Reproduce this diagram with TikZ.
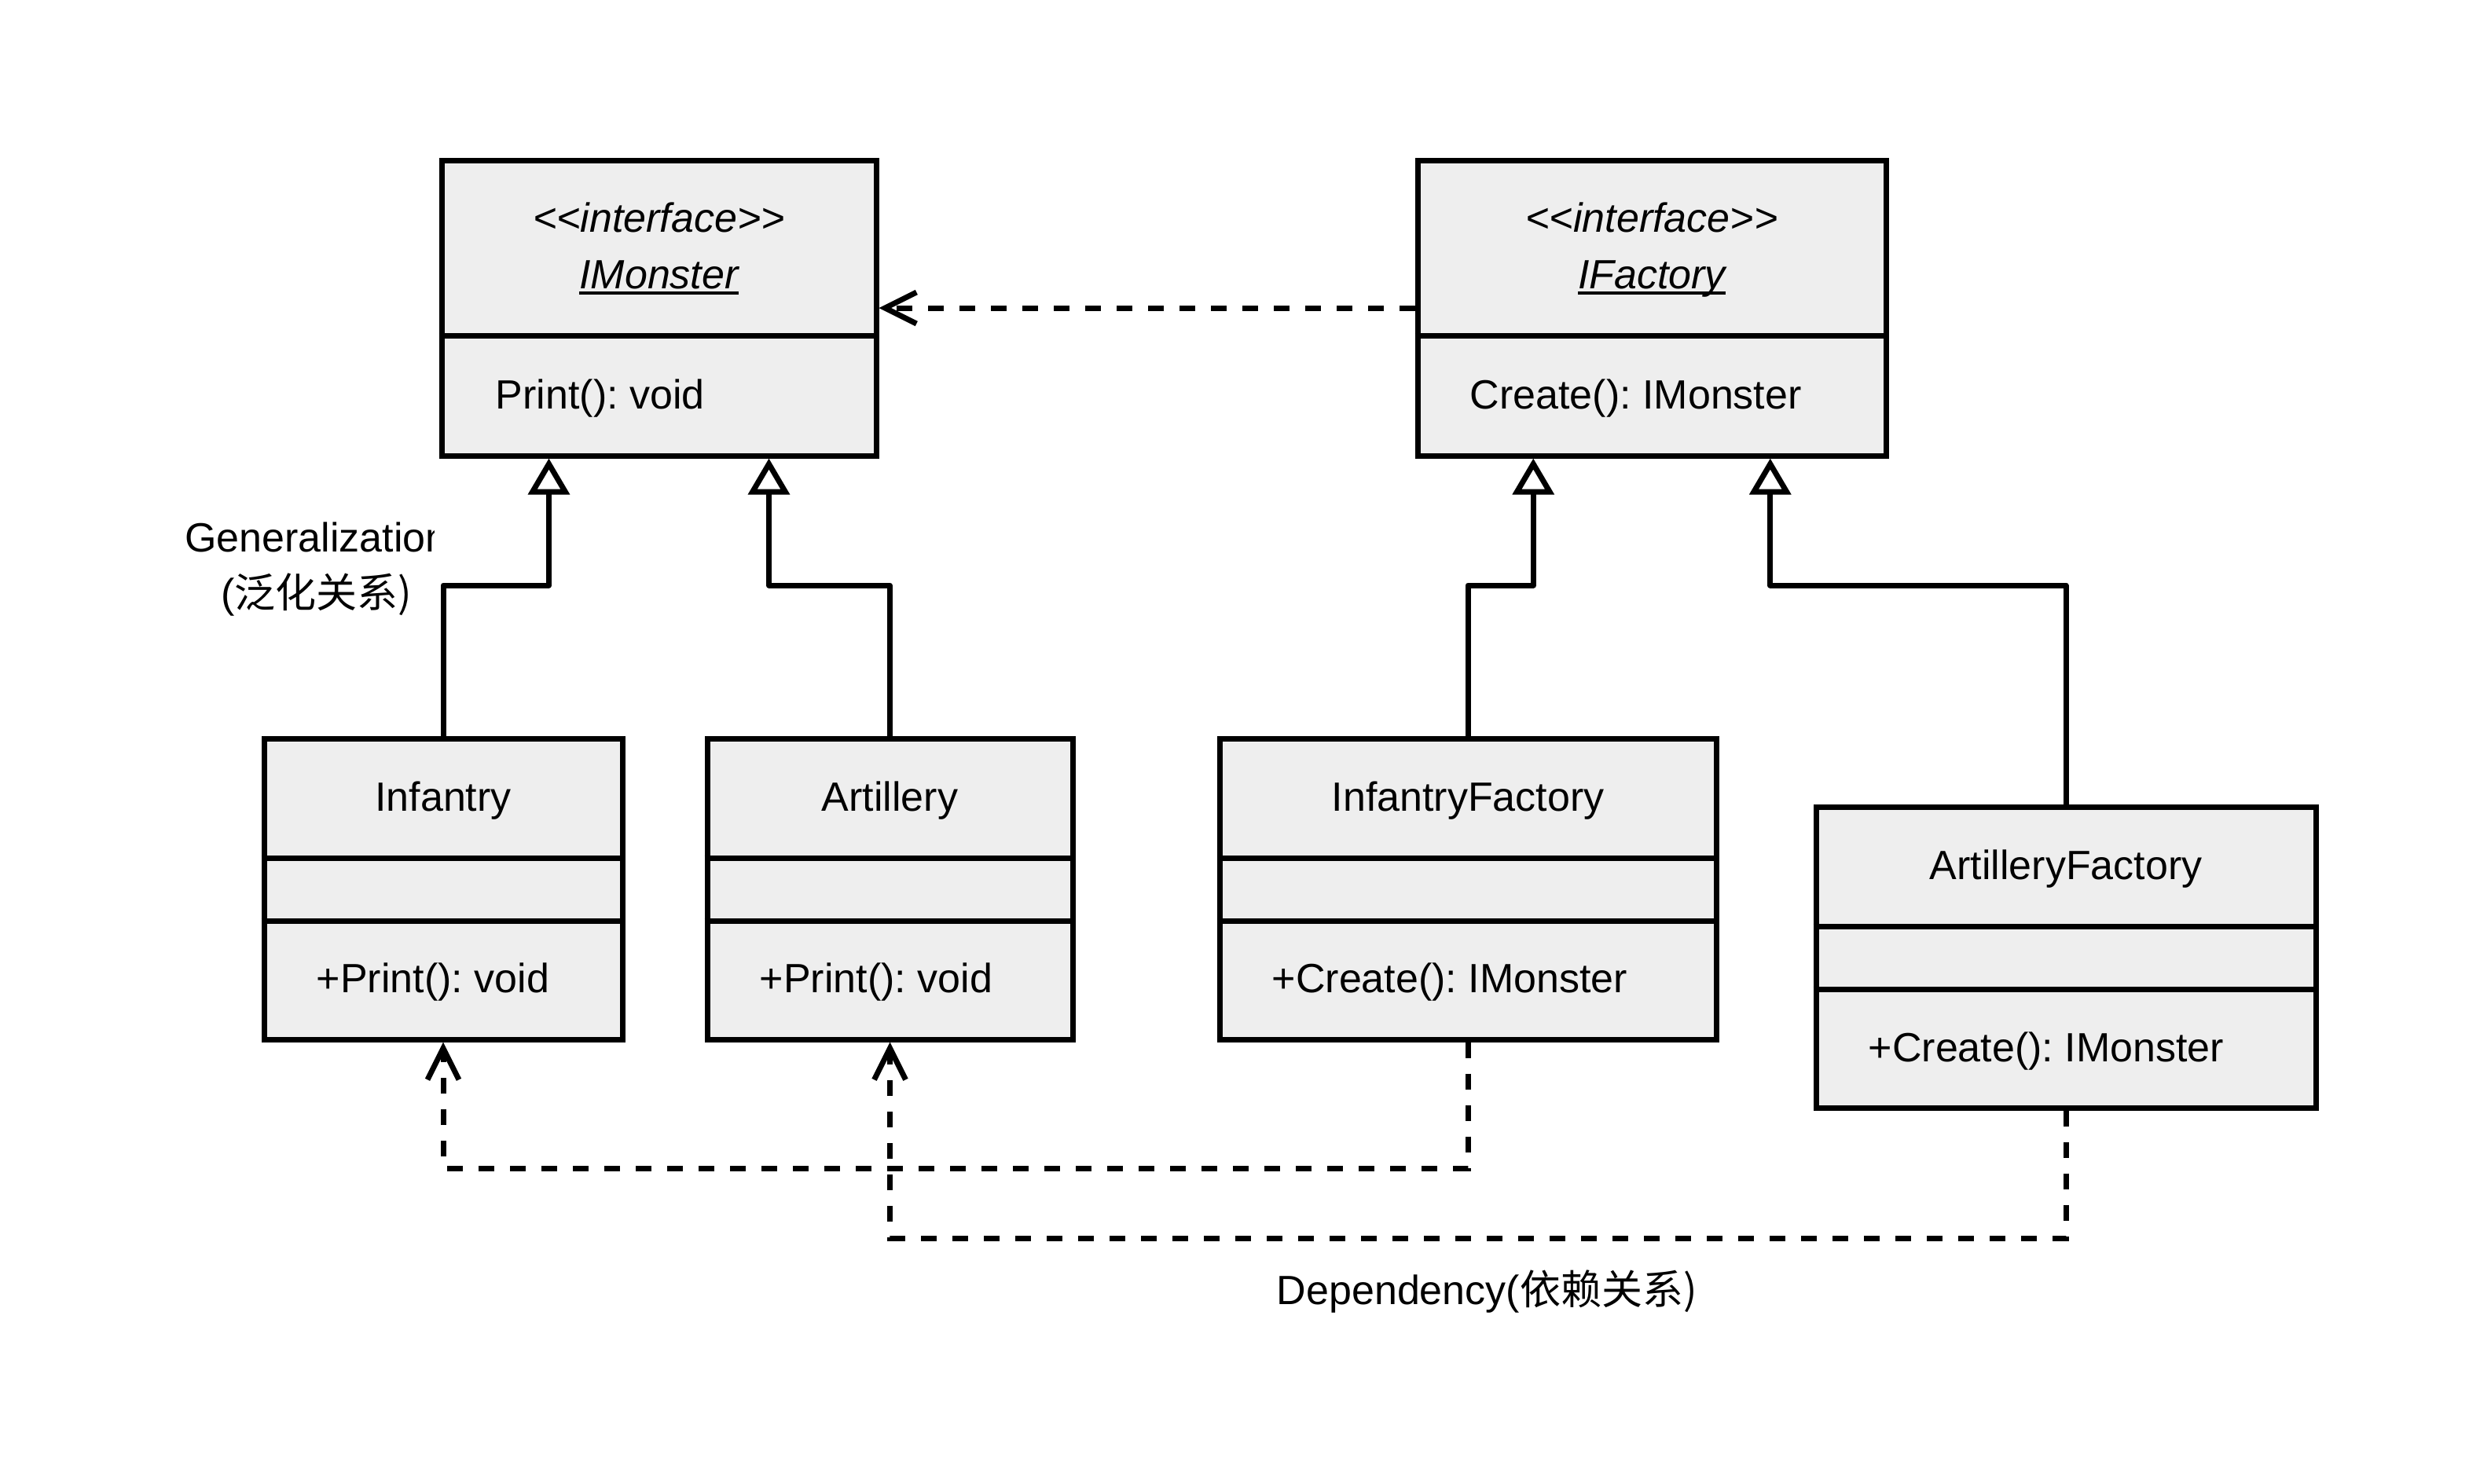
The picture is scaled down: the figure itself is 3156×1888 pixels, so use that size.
\documentclass[tikz,border=0pt]{standalone}
\usepackage{fontspec}
\setmainfont{Liberation Sans}
\newfontfamily\cjk{Noto Sans CJK SC}
\usetikzlibrary{arrows.meta,calc}
\definecolor{boxfill}{HTML}{EEEEEE}
\newcommand\myLt{\mbox{<}}
\newcommand\myGt{\mbox{>}}
\newcommand\myul[1]{\setbox0\hbox{#1}\rlap{\rule[-2pt]{\wd0}{0.9pt}}\box0}
\frenchspacing
\tikzset{
  umlbox/.style={draw, fill=boxfill, line width=1.75pt, rectangle, inner sep=0pt},
  txt/.style={inner sep=0pt, font=\fontsize{13pt}{17.75pt}\selectfont},
  gen/.style={line width=1.75pt, line join=round, -{Triangle[length=11.5pt,width=13pt,fill=white]}},
  dep/.style={line width=1.75pt, dash pattern=on 5pt off 5pt, -{Straight Barb[length=10pt,width=10pt]}},
  divider/.style={line width=1.75pt}
}
\begin{document}
\begin{tikzpicture}[x=0.25pt,y=-0.25pt]
\useasboundingbox (0,0) rectangle (3156,1888);
\fill[white] (0,0) rectangle (3156,1888);

% boxes
\node[umlbox, minimum width=138.25pt, minimum height=94pt] (imon) at (838.5,392) {};
\node[umlbox, minimum width=149pt, minimum height=94pt] (ifac) at (2102,392) {};
\node[umlbox, minimum width=114pt, minimum height=95.75pt] (inf) at (564,1131.5) {};
\node[umlbox, minimum width=116.25pt, minimum height=95.75pt] (art) at (1132.5,1131.5) {};
\node[umlbox, minimum width=158pt, minimum height=95.75pt] (inff) at (1868,1131.5) {};
\node[umlbox, minimum width=159pt, minimum height=95.75pt] (artf) at (2629,1218.5) {};

% dividers
\draw[divider] (imon.west |- 0,427) -- (imon.east |- 0,427);
\draw[divider] (ifac.west |- 0,427) -- (ifac.east |- 0,427);
\foreach \b in {inf,art,inff}{
  \draw[divider] (\b.west |- 0,1092) -- (\b.east |- 0,1092);
  \draw[divider] (\b.west |- 0,1172) -- (\b.east |- 0,1172);
}
\draw[divider] (artf.west |- 0,1179) -- (artf.east |- 0,1179);
\draw[divider] (artf.west |- 0,1259) -- (artf.east |- 0,1259);

% texts
\node[txt, anchor=base] (imonst) at (838.5,295) {\itshape\myLt\myLt interface\myGt\myGt};
\node[txt, anchor=base] (imonnm) at (838.5,367) {\itshape\myul{IMonster}};
\node[txt, anchor=base west] (imonm) at (630,520) {Print(): void};
\node[txt, anchor=base] (ifacst) at (2102,295) {\itshape\myLt\myLt interface\myGt\myGt};
\node[txt, anchor=base] (ifacnm) at (2102,367) {\itshape\myul{IFactory}};
\node[txt, anchor=base west] (ifacm) at (1870,520) {Create(): IMonster};
\node[txt, anchor=base] (infnm) at (564,1032) {Infantry};
\node[txt, anchor=base west] (infm) at (402,1263) {+Print(): void};
\node[txt, anchor=base] (artnm) at (1132.5,1032) {Artillery};
\node[txt, anchor=base west] (artm) at (966,1263) {+Print(): void};
\node[txt, anchor=base] (inffnm) at (1868,1032) {InfantryFactory};
\node[txt, anchor=base west] (inffm) at (1618,1263) {+Create(): IMonster};
\node[txt, anchor=base] (artfnm) at (2629,1119) {ArtilleryFactory};
\node[txt, anchor=base west] (artfm) at (2377,1351) {+Create(): IMonster};

% generalization connectors
\coordinate (imA) at ($(imon.south west)!0.25!(imon.south east)$);
\coordinate (imB) at ($(imon.south west)!0.75!(imon.south east)$);
\coordinate (ifA) at ($(ifac.south west)!0.25!(ifac.south east)$);
\coordinate (ifB) at ($(ifac.south west)!0.75!(ifac.south east)$);
\draw[gen] (inf.north) -- (inf.north |- 0,745) -| (imA);
\draw[gen] (art.north) -- (art.north |- 0,745) -| (imB);
\draw[gen] (inff.north) -- (inff.north |- 0,745) -| (ifA);
\draw[gen] (artf.north) -- (artf.north |- 0,745) -| (ifB);

% dependency connectors
\draw[dep] (ifac.west) -- (imon.east);
\draw[dep] (inff.south) -- (inff.south |- 0,1487) -| (inf.south);
\draw[dep] (artf.south) -- (artf.south |- 0,1576) -| (art.south);

% labels
\begin{scope}
  \clip (0,600) rectangle (552,720);
  \node[txt, anchor=base] (genl) at (403,702) {Generalization};
\end{scope}
\node[txt, anchor=base] (genc) at (403,773) {(\cjk 泛化关系)};
\node[txt, anchor=base west] (depl) at (1624,1660) {Dependency(\cjk 依赖关系)};
\end{tikzpicture}
\end{document}
